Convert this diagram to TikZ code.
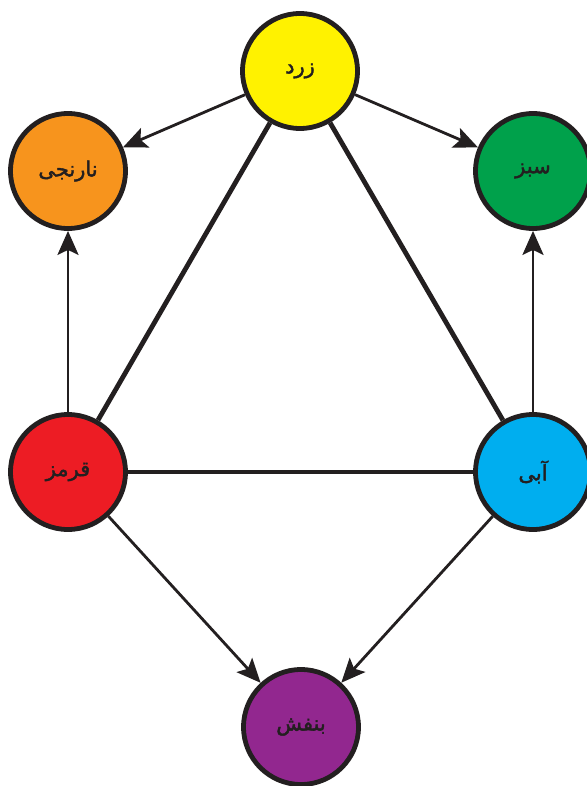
\documentclass[tikz,border=0pt]{standalone}
\usepackage{fontspec}
\usetikzlibrary{arrows.meta}
\TeXXeTstate=1
\newfontfamily\arabicfont[Script=Arabic,FakeBold=1.8]{DejaVu Sans}
\definecolor{ink}{HTML}{231F20}
\definecolor{cyellow}{HTML}{FFF200}
\definecolor{corange}{HTML}{F7941D}
\definecolor{cgreen}{HTML}{00A14B}
\definecolor{cred}{HTML}{ED1C24}
\definecolor{cblue}{HTML}{00AEEF}
\definecolor{cpurple}{HTML}{92278F}

\begin{document}
\begin{tikzpicture}[x=1pt,y=-1pt]
    \tikzset{vertex/.style = {shape=circle, draw=ink, line width=4.8pt, minimum size=115pt, inner sep=0pt, text=ink, font=\arabicfont\fontsize{21}{23}\selectfont}}
    \tikzset{edge/.style = {draw=ink, line width=4.8pt, -}}
    \tikzset{arrowedge/.style = {draw=ink, line width=2.8pt, -{Stealth[length=24pt, width=21pt, inset=5pt]}}}

    \useasboundingbox (0,0) rectangle (586,786);

    % vertices
    \node[vertex,fill=cyellow] (zard)     at (300,71)  {\beginR زرد\endR};
    \node[vertex,fill=corange] (narenji)  at (68,171)  {\beginR نارنجی\endR};
    \node[vertex,fill=cgreen]  (sabz)     at (533,171) {\beginR سبز\endR};
    \node[vertex,fill=cred]    (ghermez)  at (68,472)  {\beginR قرمز\endR};
    \node[vertex,fill=cblue]   (abi)      at (533,472) {\beginR آبی\endR};
    \node[vertex,fill=cpurple] (banafsh)  at (301,727) {\beginR بنفش\endR};

    % triangle
    \draw [edge] (zard) -- (ghermez);
    \draw [edge] (zard) -- (abi);
    \draw [edge] (ghermez) -- (abi);

    % arrows
    \draw [arrowedge] (zard) -- (narenji);
    \draw [arrowedge] (zard) -- (sabz);
    \draw [arrowedge] (ghermez) -- (narenji);
    \draw [arrowedge] (abi) -- (sabz);
    \draw [arrowedge] (ghermez) -- (banafsh);
    \draw [arrowedge] (abi) -- (banafsh);
\end{tikzpicture}
\end{document}
